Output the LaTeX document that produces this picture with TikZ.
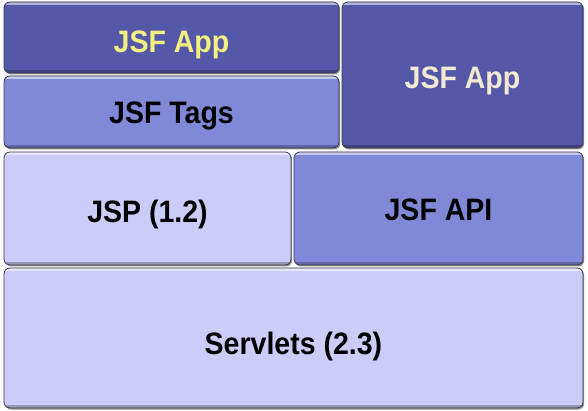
\documentclass[tikz,border=0pt]{standalone}
\usepackage{fontspec}
\setmainfont{Liberation Sans}[FakeStretch=0.92]
\usetikzlibrary{shadows}
\definecolor{darkblue}{HTML}{5558A8}
\definecolor{midblue}{HTML}{8088D8}
\definecolor{lightblue}{HTML}{CCCCF8}
\definecolor{yellowtxt}{HTML}{F2F080}
\definecolor{creamtxt}{HTML}{F2EAD2}
\definecolor{edge}{HTML}{3A3A4A}
\begin{document}
\begin{tikzpicture}[x=1pt,y=-1pt,
  layer/.style={draw=edge, line width=0.8pt, rounded corners=6pt,
    font=\bfseries\fontsize{31}{36}\selectfont, inner sep=0pt,
    text height=22pt, text depth=0pt,
    drop shadow={shadow xshift=1.2pt, shadow yshift=-1.5pt, fill=black!55, opacity=0.8},
    path picture={
      \draw[white, opacity=0.55, line width=2.5pt]
        ([yshift=-1.5pt]path picture bounding box.north west) -- ([yshift=-1.5pt]path picture bounding box.north east);
      \draw[black, opacity=0.25, line width=3pt]
        ([yshift=1.5pt]path picture bounding box.south west) -- ([yshift=1.5pt]path picture bounding box.south east);
    }},
  dark/.style={layer, fill=darkblue},
  mid/.style={layer, fill=midblue, text=black},
  light/.style={layer, fill=lightblue, text=black}]
\fill[white] (0,0) rectangle (588,411);
\useasboundingbox (0,0) rectangle (588,411);
\node[dark, text=yellowtxt, minimum width=335pt, minimum height=71pt] (app1) at (171.5,37.5) {};
\node at ([yshift=-4pt]app1.center) [text=yellowtxt, font=\bfseries\fontsize{31}{36}\selectfont, text height=22pt, text depth=0pt, inner sep=0pt] (app1t) {JSF App};
\node[mid, minimum width=335pt, minimum height=72pt] (tags) at (171.5,112) {};
\node at ([yshift=-1pt]tags.center) [font=\bfseries\fontsize{31}{36}\selectfont, text height=22pt, text depth=0pt, inner sep=0pt] (tagst) {JSF Tags};
\node[dark, minimum width=241pt, minimum height=146pt] (app2) at (462.5,75) {};
\node at ([yshift=-3pt]app2.center) [text=creamtxt, font=\bfseries\fontsize{31}{36}\selectfont, text height=22pt, text depth=0pt, inner sep=0pt] (app2t) {JSF App};
\node[light, minimum width=287pt, minimum height=113pt] (jsp) at (147.5,208.5) {};
\node at ([yshift=-3.5pt]jsp.center) [font=\bfseries\fontsize{31}{36}\selectfont, text height=22pt, text depth=0pt, inner sep=0pt] (jspt) {JSP (1.2)};
\node[mid, minimum width=289pt, minimum height=113pt] (api) at (438.5,208.5) {};
\node at ([yshift=-1.5pt]api.center) [font=\bfseries\fontsize{31}{36}\selectfont, text height=22pt, text depth=0pt, inner sep=0pt] (apit) {JSF API};
\node[light, minimum width=579pt, minimum height=140pt] (servlets) at (293.5,338) {};
\node at ([yshift=-5pt]servlets.center) [font=\bfseries\fontsize{31}{36}\selectfont, text height=22pt, text depth=0pt, inner sep=0pt] (servt) {Servlets (2.3)};
\end{tikzpicture}
\end{document}
